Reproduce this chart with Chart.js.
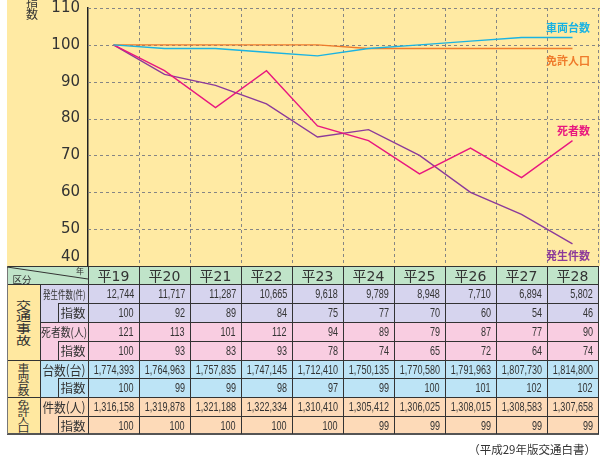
<!DOCTYPE html>
<html>
<head>
<meta charset="utf-8">
<script src="https://cdn.jsdelivr.net/npm/chart.js@4.4.0/dist/chart.umd.min.js"></script>
<style>
html, body { margin: 0; padding: 0; background: #fff; }
body {
    width: 604px; height: 473px; position: relative; overflow: hidden;
    font-family: "DejaVu Sans", "Noto Sans CJK JP", sans-serif; color: #333;
}
#panel { position: absolute; left: 7px; top: 0; width: 593px; height: 266px; background: #FFEAA3; }
#panel canvas { position: absolute; left: 0; top: 0; }
#yTitle {
    position: absolute; left: 26px; top: -4px; font: 12px/12px "Noto Sans CJK JP";
    color: #333; text-align: center;
}
#note { position: absolute; right: 8px; top: 441px; font: 11.5px "Noto Sans CJK JP"; color: #333; }
.ab { position: absolute; box-sizing: border-box; }
.t { position: absolute; display: flex; align-items: center; justify-content: center; white-space: nowrap; }
</style>
</head>
<body>
<div id="panel"><canvas id="chart" width="593" height="266"></canvas></div>
<div id="yTitle">指<br>数</div>
<div id="tbl"></div>
<div id="note">（平成29年版交通白書）</div>

<script>
// Data (平成19〜28年)
const years = ['平19', '平20', '平21', '平22', '平23', '平24', '平25', '平26', '平27', '平28'];
const accidents = [12744, 11717, 11287, 10665, 9618, 9789, 8948, 7710, 6894, 5802];
const accidentIdx = [100, 92, 89, 84, 75, 77, 70, 60, 54, 46];
const deaths = [121, 113, 101, 112, 94, 89, 79, 87, 77, 90];
const deathIdx = [100, 93, 83, 93, 78, 74, 65, 72, 64, 74];
const vehicles = [1774393, 1764963, 1757835, 1747145, 1712410, 1750135, 1770580, 1791963, 1807730, 1814800];
const vehicleIdx = [100, 99, 99, 98, 97, 99, 100, 101, 102, 102];
const licensed = [1316158, 1319878, 1321188, 1322334, 1310410, 1305412, 1306025, 1308015, 1308583, 1307658];
const licensedIdx = [100, 100, 100, 100, 100, 99, 99, 99, 99, 99];
const yTicks = [40, 50, 60, 70, 80, 90, 100, 110];

const GRID = '#858585';

// dashed grid (horizontal at ticks, vertical at category borders)
const dashedGrid = {
    id: 'dashedGrid',
    beforeDatasetsDraw(chart) {
        const { ctx, chartArea: a, scales: { x, y } } = chart;
        ctx.save();
        ctx.strokeStyle = GRID;
        ctx.lineWidth = 1;
        ctx.setLineDash([3, 3]);
        yTicks.forEach(v => {
            if (v === 40) return;
            const py = Math.round(y.getPixelForValue(v)) + 0.5;
            ctx.beginPath(); ctx.moveTo(a.left, py); ctx.lineTo(a.right + 2, py); ctx.stroke();
        });
        const step = x.getPixelForValue(1) - x.getPixelForValue(0);
        for (let i = 1; i <= years.length; i++) {
            const px = Math.round(x.getPixelForValue(0) - step / 2 + i * step) + 0.5;
            ctx.beginPath(); ctx.moveTo(px, a.top); ctx.lineTo(px, a.bottom); ctx.stroke();
        }
        ctx.restore();
    }
};

// y tick labels drawn by hand so the bottom one sits above the table
const yLabels = {
    id: 'yLabels',
    afterDraw(chart) {
        const s = chart.scales.y;
        const ctx = chart.ctx;
        ctx.save();
        ctx.font = '15px "DejaVu Sans"';
        ctx.fillStyle = '#333';
        ctx.textAlign = 'right';
        ctx.textBaseline = 'middle';
        yTicks.forEach(v => {
            const y = Math.min(s.getPixelForValue(v), chart.chartArea.bottom - 9);
            ctx.fillText(String(v), s.right - 8, y);
        });
        ctx.restore();
    }
};

// series names at the end of each line
const endLabels = {
    id: 'endLabels',
    afterDatasetsDraw(chart) {
        const ctx = chart.ctx;
        ctx.save();
        ctx.font = 'bold 11px "Noto Sans CJK JP"';
        ctx.textAlign = 'right';
        ctx.textBaseline = 'middle';
        chart.data.datasets.forEach((ds, i) => {
            const pts = chart.getDatasetMeta(i).data;
            const last = pts[pts.length - 1];
            ctx.fillStyle = ds.borderColor;
            ctx.fillText(ds.label, chart.chartArea.right - 8, last.y + ds.labelDy);
        });
        ctx.restore();
    }
};

new Chart(document.getElementById('chart'), {
    type: 'line',
    data: {
        labels: years,
        datasets: [
            { label: '車両台数', data: vehicleIdx, borderColor: '#1AB3E2', labelDy: -10 },
            { label: '免許人口', data: licensedIdx, borderColor: '#EF7B2B', labelDy: 12 },
            { label: '死者数', data: deathIdx, borderColor: '#E8177F', labelDy: -10 },
            { label: '発生件数', data: accidentIdx, borderColor: '#8C3A9A', labelDy: 12 }
        ]
    },
    options: {
        responsive: false,
        animation: false,
        layout: { padding: { top: 8, right: 2, left: 0, bottom: 0 } },
        plugins: { legend: { display: false }, tooltip: { enabled: false } },
        elements: {
            point: { radius: 0 },
            line: { borderWidth: 1.4, tension: 0 }
        },
        scales: {
            x: {
                offset: true,
                grid: { display: false, drawTicks: false },
                border: { display: false },
                ticks: { display: false }
            },
            y: {
                min: 40,
                max: 110,
                ticks: { display: false, stepSize: 10 },
                grid: { display: false, drawTicks: false },
                border: { color: '#222', width: 1.5 },
                afterFit: (s) => { s.width = 81; }
            }
        }
    },
    plugins: [dashedGrid, yLabels, endLabels]
});

// ---- table below the chart ----
const tbl = document.getElementById('tbl');
const colX = i => 88 + i * 51;
const RIGHT = colX(years.length);

function box(x1, y1, x2, y2, bg) {
    const d = document.createElement('div');
    d.className = 'ab';
    Object.assign(d.style, { left: x1 + 'px', top: y1 + 'px', width: (x2 - x1) + 'px', height: (y2 - y1) + 'px', background: bg });
    tbl.appendChild(d);
    return d;
}
function txt(x1, y1, x2, y2, html, css) {
    const d = document.createElement('div');
    d.className = 't';
    Object.assign(d.style, { left: x1 + 'px', top: y1 + 'px', width: (x2 - x1) + 'px', height: (y2 - y1) + 'px' }, css || {});
    d.innerHTML = html;
    tbl.appendChild(d);
    return d;
}
const hl = (x1, x2, y, c, w) => box(x1, y, x2, y + (w || 1), c || '#333');
const vl = (x, y1, y2, c, w) => box(x, y1, x + (w || 1), y2, c || '#333');
const fmt = v => v.toLocaleString('en-US');
const span = (s, css) => `<span style="display:inline-block;${css}">${s}</span>`;

const LAV = '#D6D4EE', PINK = '#F9CDE1', BLUE = '#BDE4F6', PEACH = '#FDDAB8', YEL = '#FFE8A0', GREEN = '#C0E4C9';

// header
box(7, 266, RIGHT, 284, GREEN);
years.forEach((y, i) => txt(colX(i), 266, colX(i + 1), 284, y, { font: '14px "DejaVu Sans", "Noto Sans CJK JP"' }));
txt(10, 273, 34, 284, '区分', { font: '9.5px "Noto Sans CJK JP"' });
txt(74, 266, 86, 274, '年', { font: '8px "Noto Sans CJK JP"' });

const blocks = [
    { group: '交通事故', y1: 284, y2: 360, gcss: 'font-size:15px;line-height:15px;transform:scaleY(.78)', rows: [
        { label: span('発生件数(件)', 'font-size:11px;transform:scaleX(.68)'), vals: accidents, bg: LAV, y1: 284, y2: 303 },
        { label: '指数', vals: accidentIdx, bg: LAV, y1: 303, y2: 322, sub: true },
        { label: span('死者数(人)', 'font-size:12px;transform:scaleX(.82)'), vals: deaths, bg: PINK, y1: 322, y2: 341 },
        { label: '指数', vals: deathIdx, bg: PINK, y1: 341, y2: 360, sub: true }
    ]},
    { group: '車両台数', y1: 360, y2: 397, gcss: 'font-size:12px;line-height:11px;transform:scaleY(.72)', rows: [
        { label: span('台数(台)', 'font-size:13px;transform:scaleX(.9)'), vals: vehicles, bg: BLUE, y1: 360, y2: 378 },
        { label: '指数', vals: vehicleIdx, bg: BLUE, y1: 378, y2: 397, sub: true }
    ]},
    { group: '免許人口', y1: 397, y2: 434, gcss: 'font-size:12px;line-height:11px;transform:scaleY(.72)', rows: [
        { label: span('件数(人)', 'font-size:13px;transform:scaleX(.9)'), vals: licensed, bg: PEACH, y1: 397, y2: 416 },
        { label: '指数', vals: licensedIdx, bg: PEACH, y1: 416, y2: 434, sub: true }
    ]}
];

blocks.forEach(b => {
    box(7, b.y1, 40, b.y2, YEL);
    txt(7, b.y1, 40, b.y2, span(b.group.split('').join('<br>'), 'text-align:center;' + b.gcss), { fontFamily: '"Noto Sans CJK JP"' });
    b.rows.forEach(r => {
        box(40, r.y1, RIGHT, r.y2, r.bg);
        if (r.sub) {
            txt(58, r.y1, 88, r.y2, '指数', { font: '12.5px "Noto Sans CJK JP"' });
            vl(58, r.y1, r.y2);
            hl(58, RIGHT, r.y1);
        } else {
            txt(40, r.y1, 88, r.y2, r.label, { fontFamily: '"Noto Sans CJK JP"' });
            hl(40, RIGHT, r.y1);
        }
        r.vals.forEach((v, i) => txt(colX(i), r.y1, colX(i + 1) - 5, r.y2,
            span(fmt(v), 'transform:scaleX(.67);transform-origin:100% 50%'),
            { justifyContent: 'flex-end', font: '13.5px "Liberation Sans"' }));
    });
    hl(7, RIGHT, b.y1);
});

// grid lines of the table
hl(7, RIGHT, 266);
hl(7, RIGHT, 284);
hl(7, RIGHT + 1, 433, '#555', 2);
vl(7, 266, 434, '#777');
vl(40, 284, 434);
for (let i = 0; i <= years.length; i++) vl(colX(i), 266, 434);

// diagonal in the corner cell
const svg = document.createElementNS('http://www.w3.org/2000/svg', 'svg');
svg.setAttribute('width', '604'); svg.setAttribute('height', '473');
svg.style.position = 'absolute'; svg.style.left = '0'; svg.style.top = '0';
svg.innerHTML = '<line x1="7" y1="267" x2="88" y2="279" stroke="#333" stroke-width="1"/>';
tbl.appendChild(svg);
</script>
</body>
</html>
